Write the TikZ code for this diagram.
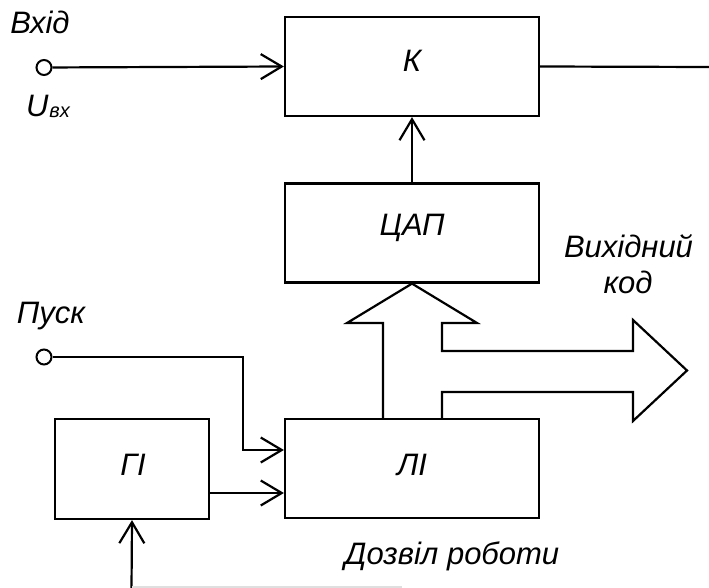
\documentclass[tikz,border=0pt]{standalone}
\usepackage{fontspec}
\setmainfont{Liberation Sans}
\usetikzlibrary{arrows.meta,calc}
\begin{document}
\begin{tikzpicture}[x=1pt,y=-1pt,
  line width=2.2pt,
  blk/.style={draw,rectangle,minimum width=254pt,minimum height=99pt,inner sep=0pt},
  lbl/.style={inner sep=0pt,anchor=base,font=\fontsize{31}{36}\selectfont\itshape},
  term/.style={draw,circle,fill=white,minimum size=15pt,inner sep=0pt,line width=2pt},
  arr/.style={-{Straight Barb[length=21pt,width=25pt,line width=2.2pt]}}]
\useasboundingbox (0,0) rectangle (709,588);
\fill[white] (0,0) rectangle (709,588);
% blocks
\node[blk] (K) at (412,66.5) {};
\node[blk] (DAC) at (412,233) {};
\node[blk] (LI) at (412,468.5) {};
\node[blk,minimum width=154pt,minimum height=100pt] (GI) at (132,469) {};
\node[lbl] (tK) at (412,72) {К};
\node[lbl] (tDAC) at (412,235) {ЦАП};
\node[lbl] (tLI) at (412,475) {ЛІ};
\node[lbl] (tGI) at (133,475) {ГІ};
% terminals
\node[term] (in) at (44,67.5) {};
\node[term] (start) at (44,357) {};
\coordinate (out) at (709,67);
\coordinate (fb) at (131.5,589);
% labels
\node[lbl] (tin) at (40,34) {Вхід};
\node[lbl,anchor=base west] (tu) at (25,117) {U\kern1pt\raisebox{-1pt}{\fontsize{20}{20}\selectfont вх}};
\node[lbl] (tstart) at (51,323) {Пуск};
\node[lbl] (tcode1) at (628.5,257) {Вихідний};
\node[lbl] (tcode2) at (628,293) {код};
\node[lbl] (ten) at (452,564) {Дозвіл роботи};
% connectors
\draw[arr] (in) -- (K.west);
\draw (K.east) -- (out);
\draw[arr] (DAC.north) -- (K.south);
\draw[arr] (start) -| ($(LI.west)+(-41,-18.5)$) -- ($(LI.west)+(0,-18.5)$);
\draw[arr] ($(GI.east)+(0,24)$) coordinate (g1) -- (g1 -| LI.west);
\draw[arr] (fb) -- (GI.south);
\draw[gray!25] (131.5,587) -- (402,587);
% bus arrows
\draw[line join=miter] (383,419) -- (383,323) -- (347,323) -- (DAC.south) -- (477,323) -- (442,323)
  -- (442,351) -- (633,351) -- (633,320) -- (687,370.5) -- (633,421) -- (633,392) -- (442,392) -- (442,419);
\end{tikzpicture}
\end{document}
